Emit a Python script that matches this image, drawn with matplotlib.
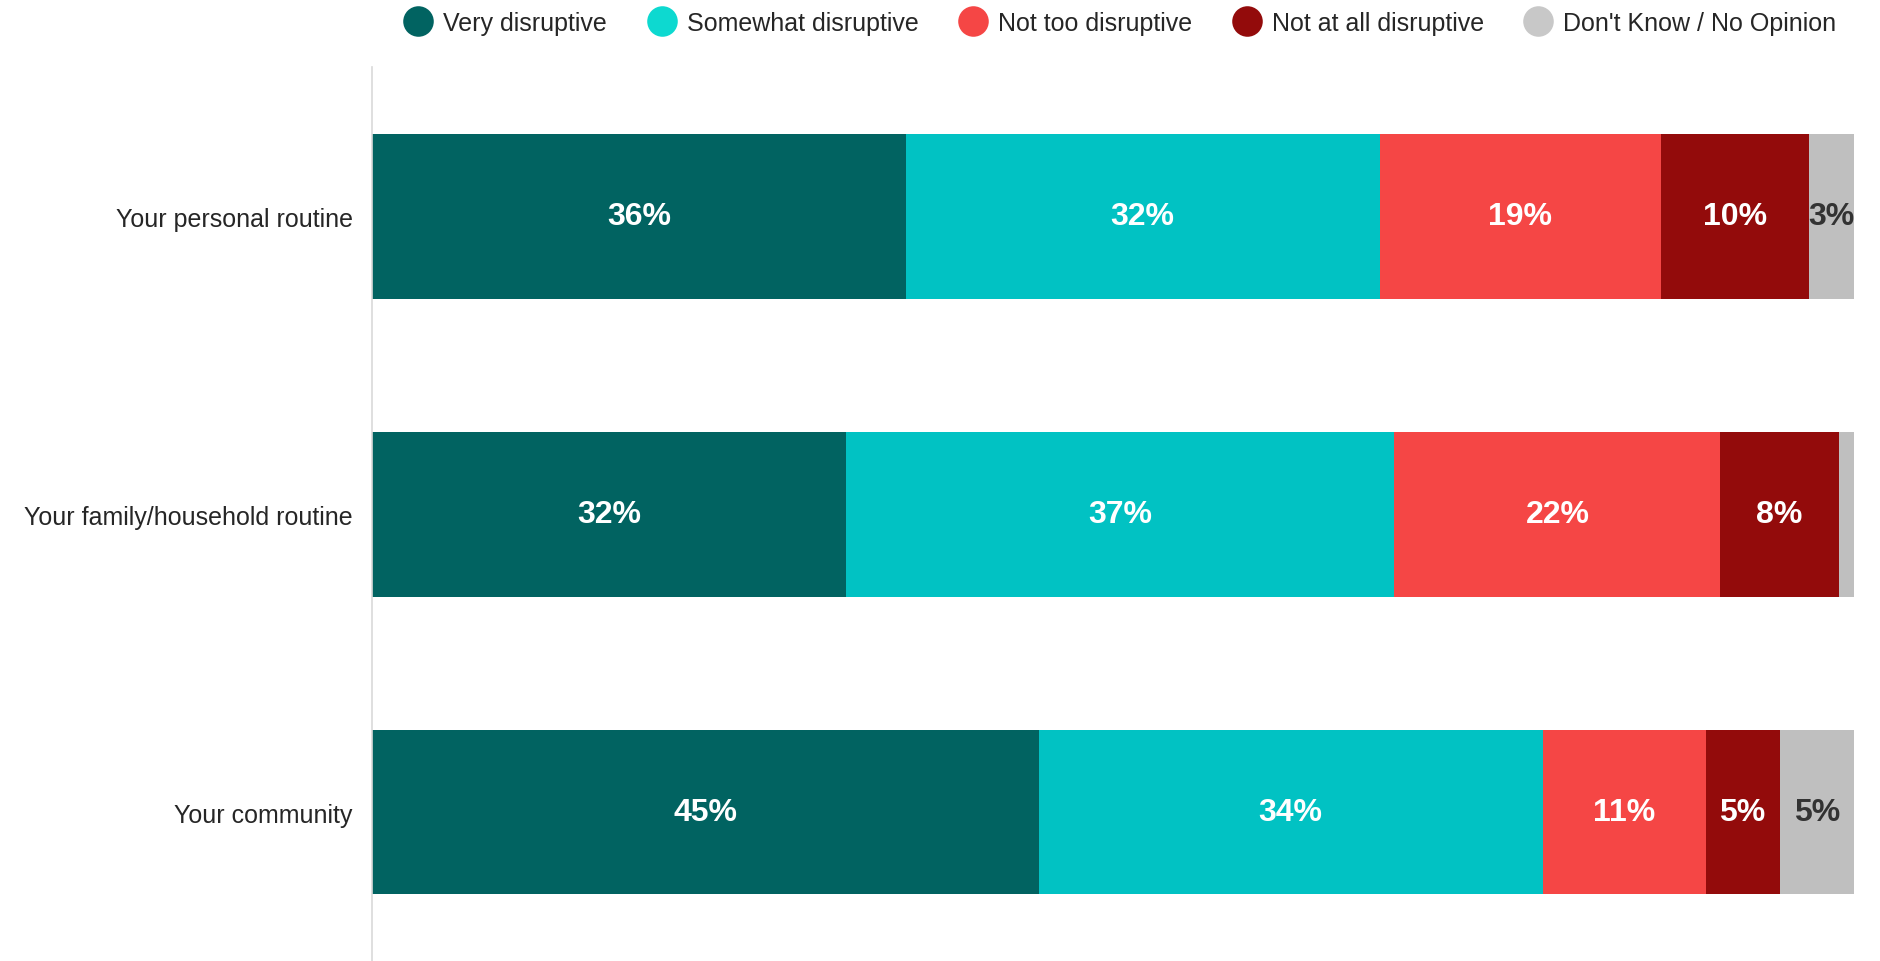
import numpy as np
import matplotlib.pyplot as plt
from matplotlib.lines import Line2D

plt.rcParams['font.family'] = ['Liberation Sans', 'DejaVu Sans']

# === DATA ===
categories = ["Your personal routine", "Your family/household routine", "Your community"]
series = ["Very disruptive", "Somewhat disruptive", "Not too disruptive",
          "Not at all disruptive", "Don't Know / No Opinion"]
very = [36, 32, 45]
somewhat = [32, 37, 34]
not_too = [19, 22, 11]
not_at_all = [10, 8, 5]
dont_know = [3, 1, 5]

bar_colors = ["#016361", "#01C2C3", "#F54645", "#930B0B", "#BFBFBF"]
legend_colors = ["#016361", "#0DD9D0", "#F54645", "#930B0B", "#C8C8C8"]
text_colors = ["white", "white", "white", "white", "#333333"]

values = [very, somewhat, not_too, not_at_all, dont_know]

fig = plt.figure(figsize=(18.8, 9.62), dpi=100)
ax = fig.add_axes([0.198, 0.0, 0.788, 0.929])

y = np.arange(len(categories))
left = np.zeros(len(categories))
for vals, color, tcol in zip(values, bar_colors, text_colors):
    vals = np.array(vals, dtype=float)
    ax.barh(y, vals, left=left, height=0.553, color=color, edgecolor='none')
    for yi, (l, v) in enumerate(zip(left, vals)):
        if v >= 2:
            ax.text(l + v / 2, yi, f"{int(v)}%", ha='center', va='center',
                    color=tcol, fontsize=23, fontweight='bold')
    left += vals

ax.set_xlim(0, 100)
ax.set_ylim(2.5, -0.5)
ax.set_yticks(y)
ax.set_yticklabels(categories, fontsize=18, color="#262626")
ax.tick_params(axis='y', length=0, pad=14)
ax.set_xticks([])
for s in ['top', 'right', 'bottom']:
    ax.spines[s].set_visible(False)
ax.spines['left'].set_color("#D9D9D9")
ax.spines['left'].set_linewidth(1.2)

handles = [Line2D([0], [0], marker='o', linestyle='none', markersize=22,
                  markerfacecolor=c, markeredgecolor='none') for c in legend_colors]
fig.legend(handles, series, loc='center', bbox_to_anchor=(0.593, 0.975), ncol=5,
           frameon=False, fontsize=18, handletextpad=0.0, columnspacing=1.18,
           labelcolor="#262626")

fig.savefig("out.png", dpi=100)
